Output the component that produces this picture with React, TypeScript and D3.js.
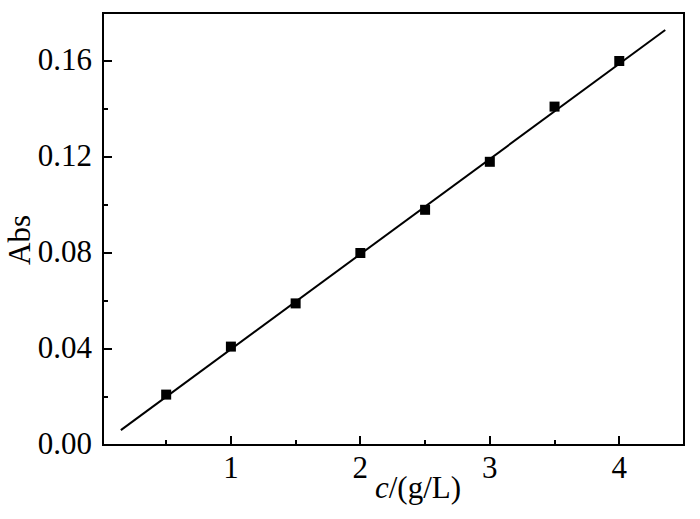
import React from "react";
import * as d3 from "d3";

const concentrations = [0.5, 1, 1.5, 2, 2.5, 3, 3.5, 4];
const absorbance = [0.021, 0.041, 0.059, 0.08, 0.098, 0.118, 0.141, 0.16];
const fitX = [0.15, 4.355];
const fitSlope = 0.03964;
const fitIntercept = 0.00026;
const xTicks = [1, 2, 3, 4];
const xMinor = [0.5, 1.5, 2.5, 3.5];
const yTicks = [0, 0.04, 0.08, 0.12, 0.16];
const yMinor = [0.02, 0.06, 0.1, 0.14];

export default function App() {
  const W = 700, H = 519;
  const L = 103, R = 684, T = 13, B = 445;
  const x = d3.scaleLinear().domain([0.012, 4.5]).range([L, R]);
  const y = d3.scaleLinear().domain([0, 0.18]).range([B, B - 0.18 * 2400]);
  const font = "'Liberation Serif', 'Times New Roman', serif";
  const line = d3.line<number>().x((d) => x(d)).y((d) => y(fitSlope * d + fitIntercept));
  const ms = 10;
  const fs = 31;
  return (
    <svg width={W} height={H} style={{ position: "absolute", left: 0, top: 0, background: "#fff" }}>
      <rect x={0} y={0} width={W} height={H} fill="#fff" />
      <rect x={L} y={T} width={R - L} height={B - T} fill="none" stroke="#000" strokeWidth={2} />
      <g shapeRendering="crispEdges">
        {xTicks.map((t) => (
          <line key={"xt" + t} x1={Math.round(x(t))} x2={Math.round(x(t))} y1={B} y2={B - 9} stroke="#000" strokeWidth={2} />
        ))}
        {xMinor.map((t) => (
          <line key={"xm" + t} x1={Math.round(x(t))} x2={Math.round(x(t))} y1={B} y2={B - 5} stroke="#000" strokeWidth={2} />
        ))}
        {yTicks.map((t) => (
          <line key={"yt" + t} x1={L} x2={L + 9} y1={Math.round(y(t))} y2={Math.round(y(t))} stroke="#000" strokeWidth={2} />
        ))}
        {yMinor.map((t) => (
          <line key={"ym" + t} x1={L} x2={L + 5} y1={Math.round(y(t))} y2={Math.round(y(t))} stroke="#000" strokeWidth={2} />
        ))}
      </g>
      {xTicks.map((t) => (
        <text key={"xl" + t} x={x(t)} y={478} textAnchor="middle" fontFamily={font} fontSize={fs}>{t}</text>
      ))}
      {yTicks.map((t) => (
        <text key={"yl" + t} x={92} y={y(t) + 9} textAnchor="end" fontFamily={font} fontSize={fs}>{t.toFixed(2)}</text>
      ))}
      <path d={line(fitX) || ""} fill="none" stroke="#000" strokeWidth={2} />
      {concentrations.map((c, i) => (
        <rect key={"p" + i} x={x(c) - ms / 2} y={y(absorbance[i]) - ms / 2} width={ms} height={ms} fill="#000" />
      ))}
      <text x={418} y={498} textAnchor="middle" fontFamily={font} fontSize={fs}>
        <tspan fontStyle="italic">c</tspan>/(g/L)
      </text>
      <text transform={`translate(30, 240) rotate(-90)`} textAnchor="middle" fontFamily={font} fontSize={fs}>Abs</text>
    </svg>
  );
}
